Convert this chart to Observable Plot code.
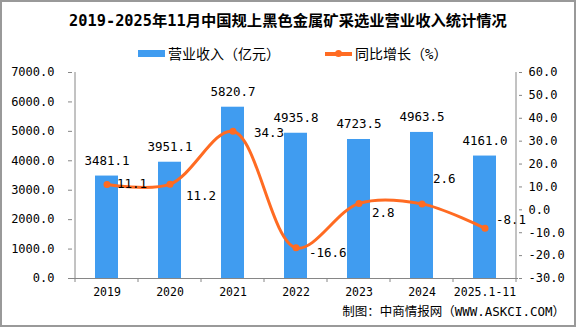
<!DOCTYPE html>
<html><head><meta charset="utf-8">
<script src="https://cdn.jsdelivr.net/npm/d3@7"></script>
<script src="https://cdn.jsdelivr.net/npm/@observablehq/plot@0.6"></script>
<style>
html,body{margin:0;padding:0;background:#fff;}
#wrap{position:relative;width:576px;height:327px;overflow:hidden;background:#fff;font-family:"DejaVu Sans Mono","Noto Sans CJK SC",sans-serif;color:#000;}
#frame{position:absolute;left:0;top:0;width:576px;height:327px;box-sizing:border-box;border:2px solid #999;pointer-events:none;}
#title{position:absolute;left:0;top:10px;width:576px;text-align:center;font-size:15.3px;font-weight:bold;line-height:22px;white-space:nowrap;}
.lg{position:absolute;}
.lgtext{position:absolute;top:43px;font-size:14px;line-height:20px;white-space:nowrap;font-family:"Noto Sans CJK SC",sans-serif;}
#chart{position:absolute;left:0;top:60px;}
#caption{position:absolute;right:11px;top:302px;font-size:12.5px;line-height:20px;white-space:nowrap;}
</style>
</head><body>
<div id="wrap">
  <div id="title">2019-2025年11月中国规上黑色金属矿采选业营业收入统计情况</div>
  <div class="lg" style="left:138px;top:50px;width:27px;height:7px;background:#409CF0"></div>
  <div class="lgtext" style="left:168px">营业收入（亿元）</div>
  <div class="lg" style="left:325px;top:52px;width:27px;height:3.5px;background:#FF6B22"></div>
  <div class="lg" style="left:335px;top:50px;width:7px;height:7px;border-radius:50%;background:#FF6B22"></div>
  <div class="lgtext" style="left:355px">同比增长（<span style="font-family:'DejaVu Sans Mono'">%</span>）</div>
  <div id="chart"></div>
  <div id="caption">制图：中商情报网（WWW.ASKCI.COM）</div>
  <div id="frame"></div>
</div>
<script>
const years = ["2019", "2020", "2021", "2022", "2023", "2024", "2025.1-11"];
const revenue = [3481.1, 3951.1, 5820.7, 4935.8, 4723.5, 4963.5, 4161.0];
const growth = [11.1, 11.2, 34.3, -16.6, 2.8, 2.6, -8.1];
const leftTicks = [0, 1000, 2000, 3000, 4000, 5000, 6000, 7000];
const rightTicks = [-30, -20, -10, 0, 10, 20, 30, 40, 50, 60];

const barColor = "#409CF0";
const lineColor = "#FF6B22";
const axisColor = "#868686";

const revMax = 7000, pctMin = -30, pctMax = 60;
const toLeft = v => (v - pctMin) / (pctMax - pctMin) * revMax;
const fromLeft = d => (Math.round((d / revMax * (pctMax - pctMin) + pctMin) * 10) / 10 + 0).toFixed(1);

const table = years.map((year, i) => ({year, revenue: revenue[i], growth: growth[i], g: toLeft(growth[i])}));

// label placement nudges (dx, dy in px) for the growth labels, as in the reference
const lineNudge = [[10, 0], [16, 12], [21, 2], [13, 5], [13, 10], [11, -25], [11, -8]];

const W = 576, H = 250, mL = 72, mR = 58, mT = 12, mB = 32;
const fontFam = "'DejaVu Sans Mono','Noto Sans CJK SC',sans-serif";

const plot = Plot.plot({
  width: W, height: H,
  marginLeft: mL, marginRight: mR, marginTop: mT, marginBottom: mB,
  style: {fontFamily: fontFam, fontSize: "12px", color: "#000", background: "transparent", overflow: "visible"},
  x: {type: "band", domain: years, padding: 0},
  y: {domain: [0, revMax]},
  marks: [
    Plot.barY(table, {x: "year", y: "revenue", fill: barColor, insetLeft: 20, insetRight: 20}),
    Plot.ruleY([0], {stroke: axisColor, strokeWidth: 1}),
    Plot.axisY({anchor: "left", ticks: leftTicks, tickSize: 4, tickPadding: 14, tickFormat: d => d.toFixed(1), label: null, fontSize: 12}),
    Plot.axisY({anchor: "right", ticks: rightTicks.map(toLeft), tickSize: 3, tickPadding: 7, tickFormat: fromLeft, label: null, fontSize: 12}),
    Plot.axisX({tickSize: 0, tickPadding: 9, label: null, fontSize: 11.5}),
    Plot.line(table, {x: "year", y: "g", stroke: lineColor, strokeWidth: 3, curve: "catmull-rom"}),
    Plot.dot(table, {x: "year", y: "g", r: 3.5, fill: lineColor, stroke: "none"}),
    Plot.text(table, {x: "year", y: "revenue", text: d => d.revenue.toFixed(1), dy: -15, fontSize: 12.5, fill: "#000"}),
    ...lineNudge.map(([dx, dy], i) => Plot.text([table[i]], {x: "year", y: "g", text: d => d.growth.toFixed(1), textAnchor: "start", dx, dy, fontSize: 12.5, fill: "#000"}))
  ]
});

document.getElementById("chart").appendChild(plot);

// axis lines and category-boundary ticks drawn from Plot's scales
const svg = d3.select(plot);
const xs = plot.scale("x"), ys = plot.scale("y");
const y0 = ys.apply(0), yTop = ys.apply(revMax);
const starts = years.map(y => xs.apply(y));
const bounds = [...starts, starts[starts.length - 1] + xs.step];
svg.selectAll("[aria-label='y-axis tick']").attr("stroke", axisColor);
const g = svg.append("g").attr("stroke", axisColor).attr("stroke-width", 1);
g.append("line").attr("x1", bounds[0]).attr("x2", bounds[0]).attr("y1", yTop).attr("y2", y0);
g.append("line").attr("x1", bounds[bounds.length - 1]).attr("x2", bounds[bounds.length - 1]).attr("y1", yTop).attr("y2", y0);
bounds.forEach(b => g.append("line").attr("x1", b).attr("x2", b).attr("y1", y0).attr("y2", y0 + 4));
</script>
</body></html>
